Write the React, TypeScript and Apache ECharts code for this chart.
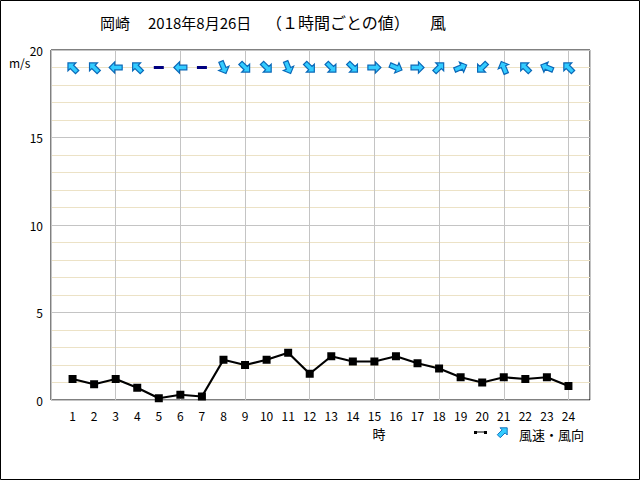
import React, { useEffect, useRef } from "react";
import * as echarts from "echarts";

const hours = [1, 2, 3, 4, 5, 6, 7, 8, 9, 10, 11, 12, 13, 14, 15, 16, 17, 18, 19, 20, 21, 22, 23, 24];
const windSpeed = [1.2, 0.9, 1.2, 0.7, 0.1, 0.3, 0.2, 2.3, 2.0, 2.3, 2.7, 1.5, 2.5, 2.2, 2.2, 2.5, 2.1, 1.8, 1.3, 1.0, 1.3, 1.2, 1.3, 0.8];
// direction the wind blows FROM (16-point compass), "C" = calm
const windFrom = ["SE", "SE", "E", "SE", "C", "E", "C", "NNW", "NW", "NW", "NNW", "NW", "NW", "NW", "W", "WNW", "W", "SW", "WSW", "NE", "SSE", "SE", "ESE", "SE"];
const compass = ["N", "NNE", "NE", "ENE", "E", "ESE", "SE", "SSE", "S", "SSW", "SW", "WSW", "W", "WNW", "NW", "NNW"];
const yTicks = [0, 5, 10, 15, 20];
const arrowLevel = 19;
const titleParts = ["岡崎", "2018年8月26日", "（１時間ごとの値）", "風"];

const FONT = "'Noto Sans CJK JP', sans-serif";
const ARROW = "path://M0,-7 L6,-1 L2.5,-1 L2.5,7 L-2.5,7 L-2.5,-1 L-6,-1 Z";

export default function App() {
  const ref = useRef<HTMLDivElement>(null);
  useEffect(() => {
    document.body.style.margin = "0";
    const chart = echarts.init(ref.current!, null, { renderer: "svg" });
    const arrows: any[] = [];
    const calm: any[] = [];
    hours.forEach((h, i) => {
      const d = windFrom[i];
      if (d === "C") calm.push([h, arrowLevel]);
      else arrows.push([h, arrowLevel, (compass.indexOf(d) * 22.5 + 180) % 360]);
    });
    const legendArrowPts = [[0, -7], [6, -1], [2.5, -1], [2.5, 7], [-2.5, 7], [-2.5, -1], [-6, -1]];
    const titleX = [100, 148, 266, 430];
    const titleSize = [15, 15, 16, 16];
    chart.setOption({
      animation: false,
      backgroundColor: "#fff",
      grid: { left: 51, right: 50, top: 50, bottom: 80, show: true, borderColor: "#000", borderWidth: 1, backgroundColor: "#fff" },
      xAxis: [
        {
          type: "value", min: 0, max: 25, interval: 1, position: "bottom",
          axisLine: { show: false }, axisTick: { show: false }, splitLine: { show: false },
          axisLabel: {
            margin: 9, color: "#000", fontSize: 12, lineHeight: 12, fontFamily: FONT,
            formatter: (v: number) => (hours.indexOf(v) >= 0 ? String(v) : ""),
          },
        },
        {
          type: "value", min: 0, max: 25, interval: 3, position: "top",
          axisLine: { show: false }, axisTick: { show: false }, axisLabel: { show: false },
          splitLine: { show: true, lineStyle: { color: "#c4c4c4", width: 1 } },
        },
      ],
      yAxis: {
        type: "value", min: yTicks[0], max: yTicks[yTicks.length - 1], interval: 5,
        axisLine: { show: false }, axisTick: { show: false },
        axisLabel: { margin: 8, color: "#000", fontSize: 12, fontFamily: FONT },
        splitLine: { show: true, lineStyle: { color: "#c4c4c4", width: 1 } },
        minorTick: { show: false, splitNumber: 5 },
        minorSplitLine: { show: true, lineStyle: { color: "#ece2c6", width: 1 } },
      },
      series: [
        {
          type: "line", xAxisIndex: 0, data: hours.map((h, i) => [h, windSpeed[i]]),
          symbol: "rect", symbolSize: 8, itemStyle: { color: "#000" },
          lineStyle: { color: "#000", width: 2.2 }, z: 3,
        },
        {
          type: "scatter", xAxisIndex: 0, data: arrows, symbol: ARROW, symbolSize: 13, symbolKeepAspect: true,
          symbolRotate: (v: number[]) => -v[2],
          itemStyle: { color: "#33ccff", borderColor: "#0a68b8", borderWidth: 1.2, opacity: 1 }, z: 4,
        },
        {
          type: "scatter", xAxisIndex: 0, data: calm, symbol: "rect", symbolSize: [10, 3],
          itemStyle: { color: "#000080", opacity: 1 }, z: 4,
        },
      ],
      graphic: [
        { type: "rect", shape: { x: 0.5, y: 0.5, width: 639, height: 479 }, style: { fill: "none", stroke: "#000", lineWidth: 1 }, z: 100 },
        ...titleParts.map((t, i) => ({
          type: "text", x: titleX[i], y: 22,
          style: { text: t, font: `${titleSize[i]}px ${FONT}`, fill: "#000", textVerticalAlign: "middle" },
        })),
        { type: "text", x: 9, y: 62, style: { text: "m/s", font: `12px ${FONT}`, fill: "#000", textVerticalAlign: "middle" } },
        { type: "text", x: 379, y: 433, style: { text: "時", font: `13px ${FONT}`, lineHeight: 13, fill: "#000", textAlign: "center", textVerticalAlign: "middle" } },
        { type: "line", shape: { x1: 475, y1: 432, x2: 486, y2: 432 }, style: { stroke: "#000", lineWidth: 1 } },
        { type: "rect", shape: { x: 474, y: 431, width: 3, height: 3 }, style: { fill: "#000" } },
        { type: "rect", shape: { x: 484, y: 431, width: 3, height: 3 }, style: { fill: "#000" } },
        {
          type: "polygon", x: 503, y: 432, rotation: -Math.PI / 4, scaleX: 0.85, scaleY: 0.85,
          shape: { points: legendArrowPts }, style: { fill: "#33ccff", stroke: "#0a68b8", lineWidth: 1 },
        },
        { type: "text", x: 519, y: 434, style: { text: "風速・風向", font: `13px ${FONT}`, lineHeight: 13, fill: "#000", textVerticalAlign: "middle" } },
      ],
    });
    return () => chart.dispose();
  }, []);
  return <div ref={ref} style={{ position: "absolute", left: 0, top: 0, width: 640, height: 480 }} />;
}
